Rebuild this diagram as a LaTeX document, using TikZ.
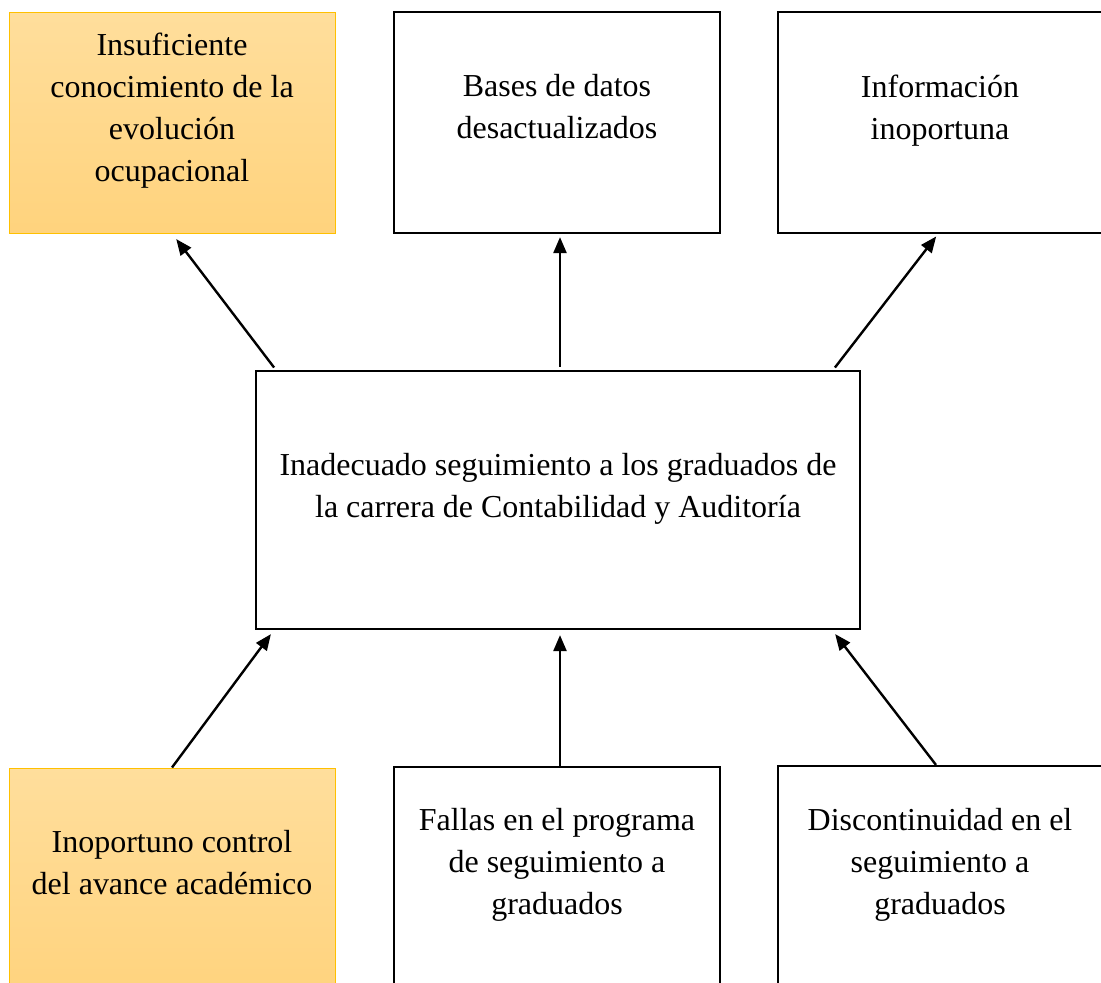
\documentclass[tikz,border=0pt]{standalone}
\usepackage{fontspec}
\setmainfont{Liberation Serif}
\usetikzlibrary{arrows.meta}
\definecolor{causetop}{RGB}{255, 222, 156}
\definecolor{causebottom}{RGB}{255, 211, 125}
\definecolor{causeline}{RGB}{255, 192, 0}
\tikzset{
  plainbox/.style={draw=black, line width=0.22mm, minimum width=32.6mm, minimum height=22.1mm, inner sep=0pt},
  goldbox/.style={draw=causeline, line width=0.1mm, top color=causetop, bottom color=causebottom, minimum width=32.6mm, minimum height=22.1mm, inner sep=0pt},
  boxtext/.style={align=center, font=\fontsize{9.1}{11.95}\selectfont},
  arr/.style={line width=0.24mm, -{Triangle[length=1.6mm, width=1.3mm]}}
}
\begin{document}
\begin{tikzpicture}[x=0.1mm, y=-0.1mm]
			\useasboundingbox (0, 0) rectangle (1101, 983);
			\node [goldbox] (insuf) at (172, 122.5) {};
			\node [plainbox] (bases) at (557, 122.5) {};
			\node [plainbox, minimum width=32.8mm] (info) at (942, 122.5) {};
			\node [plainbox, minimum width=60.4mm, minimum height=25.8mm] (problema) at (558, 500) {};
			\node [goldbox, minimum height=23.2mm] (inop) at (172, 884) {};
			\node [plainbox, minimum height=23.3mm] (fallas) at (557, 883.5) {};
			\node [plainbox, minimum width=32.8mm, minimum height=23.4mm] (discont) at (942, 883) {};
			\node [boxtext] (insuftxt) at (172, 111) {Insuficiente\\conocimiento de la\\evolución\\ocupacional};
			\node [boxtext] (basestxt) at (557, 107) {Bases de datos\\desactualizados};
			\node [boxtext] (infotxt) at (940, 111) {Información\\inoportuna};
			\node [boxtext] (problematxt) at (558, 489) {Inadecuado seguimiento a los graduados de\\la carrera de Contabilidad y Auditoría};
			\node [boxtext] (inoptxt) at (172, 863) {Inoportuno control\\del avance académico};
			\node [boxtext] (fallastxt) at (557, 865) {Fallas en el programa\\de seguimiento a\\graduados};
			\node [boxtext] (discontxt) at (940, 865) {Discontinuidad en el\\seguimiento a\\graduados};
			\draw [arr, shorten <=0.3mm, shorten >=0.7mm] ([xshift=2.1mm]problema.north west) -- (insuf.south);
			\draw [arr, shorten <=0.3mm, shorten >=0.3mm] ([xshift=0.2mm]problema.north) -- ([xshift=0.2mm]problema.north |- bases.south);
			\draw [arr, shorten <=0.3mm, shorten >=0.3mm] ([xshift=-2.8mm]problema.north east) -- ([xshift=-0.4mm]info.south);
			\draw [arr, shorten >=0.5mm] (inop.north) -- ([xshift=1.9mm]problema.south west);
			\draw [arr, shorten >=0.5mm] ([xshift=0.3mm]fallas.north) -- ([xshift=0.3mm]fallas.north |- problema.south);
			\draw [arr, shorten >=0.5mm] ([xshift=-0.6mm]discont.north) -- ([xshift=-2.9mm]problema.south east);
		\end{tikzpicture}
\end{document}
